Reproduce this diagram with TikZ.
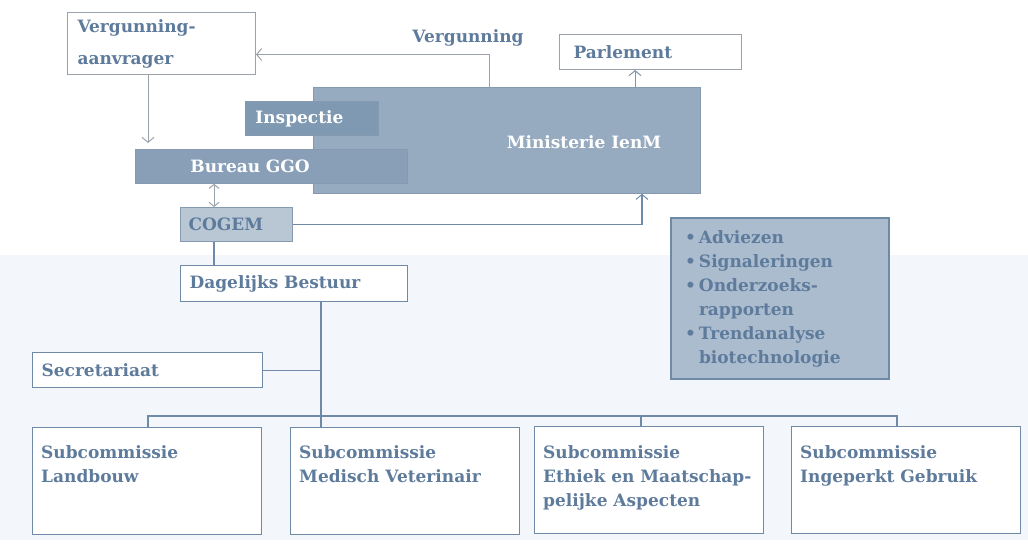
\documentclass[tikz,border=0pt]{standalone}
\usepackage{fontspec}
\setmainfont{DejaVu Serif}
\usetikzlibrary{arrows.meta}
\definecolor{txt}{HTML}{5E7B9C}
\definecolor{bord}{HTML}{6F8AA7}
\definecolor{gline}{HTML}{9AA2AC}
\definecolor{minfill}{HTML}{97ABC0}
\definecolor{minbord}{HTML}{8599AF}
\definecolor{insfill}{HTML}{8099B2}
\definecolor{ggofill}{HTML}{889FB7}
\definecolor{cogfill}{HTML}{B9C7D5}
\definecolor{listfill}{HTML}{AABCCE}
\definecolor{band}{HTML}{F3F6FA}
\definecolor{parr}{HTML}{8094AA}
\begin{document}
\begin{tikzpicture}[x=1pt,y=-1pt,
  font=\fontsize{17}{24}\selectfont\bfseries,
  tip/.style={-{Straight Barb[length=5pt,width=12pt,line width=1pt]}},
  garr/.style={draw=gline,line width=1pt,tip},
  bline/.style={draw=bord,line width=1.2pt},
  wbox/.style={draw=bord,fill=white,line width=1.2pt,anchor=north west,inner ysep=0pt,text=txt,align=left},
  gbox/.style={wbox,draw=gline,line width=1pt},
  dbox/.style={anchor=north west,inner ysep=0pt,text=white,align=left,line width=0.8pt},
  sbox/.style={draw=bord,fill=white,line width=1.2pt,anchor=north west,minimum width=229pt,minimum height=107pt,inner sep=0pt},
  stxt/.style={anchor=north west,inner sep=0pt,text=txt,align=left}
]
\useasboundingbox (0,0) rectangle (1028,545);
\fill[band] (0,255) rectangle (1028,540);

% top
\node[gbox,inner xsep=10pt,text width=168pt,minimum height=62pt] (va) at (67,12) {Vergunning-\\[8pt]aanvrager};
\node[gbox,inner xsep=14pt,text width=154pt,minimum height=35pt] (parl) at (559,34) {Parlement};
\node[text=txt] (vlab) at (468,38) {Vergunning};

\node[anchor=north west,fill=minfill,draw=minbord,line width=0.8pt,minimum width=387pt,minimum height=106pt,inner sep=0pt] (min) at (313,87) {};
\node[text=white] (mint) at (584,142) {Ministerie IenM};
\node[dbox,fill=insfill,draw=minbord,inner xsep=10pt,text width=113pt,minimum height=34pt] (ins) at (245,101) {Inspectie};
\node[dbox,fill=ggofill,draw=minbord,inner xsep=55pt,text width=162pt,minimum height=34pt] (bgg) at (135,149) {Bureau GGO};
\node[wbox,fill=cogfill,draw=minbord,line width=1pt,inner xsep=8pt,text width=96pt,minimum height=34pt] (cogem) at (180,207) {COGEM};

\node[wbox,inner xsep=9pt,text width=209pt,minimum height=36pt] (db) at (180,265) {Dagelijks Bestuur};
\node[wbox,inner xsep=9pt,text width=212pt,minimum height=35pt] (sec) at (32,352) {Secretariaat};
\node[wbox,fill=listfill,line width=2pt,inner xsep=14pt,text width=190pt,minimum height=161pt] (list) at (670,217)
  {\makebox[14pt][l]{•}Adviezen\\\makebox[14pt][l]{•}Signaleringen\\\makebox[14pt][l]{•}Onderzoeks-\\\hspace*{14pt}rapporten\\\makebox[14pt][l]{•}Trendanalyse\\\hspace*{14pt}biotechnologie};

% subcommissies
\node[sbox] (s1) at (32,427) {};
\node[sbox] (s2) at (290,427) {};
\node[sbox] (s3) at (534,426) {};
\node[sbox] (s4) at (791,426) {};
\node[stxt] (s1t) at (41,445) {Subcommissie\\Landbouw};
\node[stxt] (s2t) at (299,445) {Subcommissie\\Medisch Veterinair};
\node[stxt] (s3t) at (543,445) {Subcommissie\\Ethiek en Maatschap-\\pelijke Aspecten};
\node[stxt] (s4t) at (800,445) {Subcommissie\\Ingeperkt Gebruik};

% connectors
\draw[garr] ([xshift=176pt]min.north west) |- ([yshift=-11pt]va.east);
\draw[garr] ([xshift=81pt]va.south west) -- ([xshift=13pt,yshift=6pt]bgg.north west);
\draw[draw=parr,line width=1pt,tip] ([xshift=322pt]min.north west) -- ([xshift=76pt]parl.south west);
\draw[draw=gline,line width=1pt,{Straight Barb[length=4pt,width=10pt,line width=1pt]}-{Straight Barb[length=4pt,width=10pt,line width=1pt]}] ([xshift=79pt]bgg.south west) -- ([xshift=34pt]cogem.north west);
\draw[bline,tip] (cogem.east) -| ([xshift=329pt]min.south west);
\draw[bline] ([xshift=34pt]cogem.south west) -- ([xshift=34pt]db.north west);
\coordinate (sp) at ([xshift=141pt]db.south west);
\draw[bline] (sp) -- ([xshift=31pt]s2.north west);
\draw[bline] (sec.east) -- (sp |- sec.east);
\coordinate (bus) at (321,416);
\coordinate (b1) at ([xshift=116pt]s1.north west);
\coordinate (b3) at ([xshift=107pt]s3.north west);
\coordinate (b4) at ([xshift=106pt]s4.north west);
\draw[bline] (b1) -- (b1 |- bus) -- (b4 |- bus) -- (b4);
\draw[bline] (b3 |- bus) -- (b3);
\end{tikzpicture}
\end{document}
